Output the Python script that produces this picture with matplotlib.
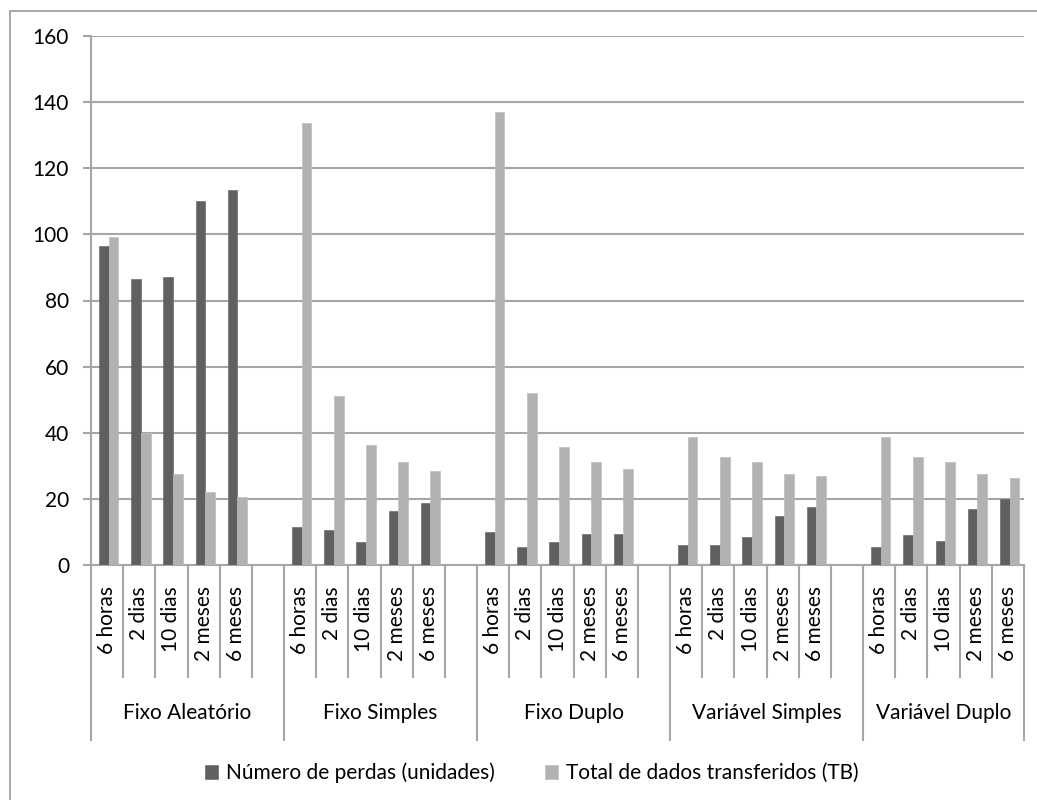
import matplotlib
matplotlib.use("Agg")
import matplotlib.pyplot as plt
from matplotlib.patches import Rectangle
from matplotlib.transforms import blended_transform_factory
import numpy as np

plt.rcParams['font.family'] = ['Lato', 'DejaVu Sans']

groups = ["Fixo Aleatório", "Fixo Simples", "Fixo Duplo", "Variável Simples", "Variável Duplo"]
periods = ["6 horas", "2 dias", "10 dias", "2 meses", "6 meses"]

perdas = [
    [96.4, 86.6, 87.1, 110.2, 113.4],
    [11.6, 10.5, 6.9, 16.3, 18.9],
    [10.0, 5.3, 6.9, 9.5, 9.5],
    [5.9, 5.9, 8.5, 14.8, 17.5],
    [5.4, 9.0, 7.4, 17.0, 20.0],
]
transferidos = [
    [99.1, 40.0, 27.5, 22.1, 20.6],
    [133.7, 51.1, 36.4, 31.1, 28.5],
    [136.9, 52.0, 35.8, 31.1, 29.0],
    [38.6, 32.8, 31.3, 27.5, 27.0],
    [38.6, 32.8, 31.3, 27.5, 26.4],
]

serie_labels = ["Número de perdas (unidades)", "Total de dados transferidos (TB)"]
dark, light = "#606060", "#b2b2b2"
grid_c = "#a6a6a6"
fs = 15

W, H = 1037, 800
fig = plt.figure(figsize=(W / 100, H / 100), dpi=100)
x0, x1, y0, y1 = 91, 1024, 36, 565
ax = fig.add_axes([x0 / W, 1 - y1 / H, (x1 - x0) / W, (y1 - y0) / H])

# outer chart frame
fig.patches.append(Rectangle((9.5 / W, -0.1), 1.2, 1 - 11 / H + 0.1, transform=fig.transFigure,
                             fill=False, edgecolor="#a0a0a0", linewidth=1.3))

# slot positions: five periods per group plus one empty slot between groups
slot = 6
xs = []
for g in range(len(groups)):
    xs.extend([g * slot + s for s in range(len(periods))])
xs = np.array(xs, dtype=float)
pv = np.concatenate(perdas)
tv = np.concatenate(transferidos)

bw = 0.3
ax.bar(xs - 0.1, pv, bw, color=dark, edgecolor="#6e6e6e", linewidth=0.5, label=serie_labels[0], zorder=3)
ax.bar(xs + 0.2, tv, bw, color=light, edgecolor="#bdbdbd", linewidth=0.5, label=serie_labels[1], zorder=3)

nslots = slot * len(groups) - 1
ax.set_xlim(-0.5, nslots - 0.5)
ax.set_ylim(0, 160)
ax.set_yticks(np.arange(0, 161, 20))
ax.yaxis.grid(True, color=grid_c, linewidth=1.5)
ax.set_axisbelow(True)
for sp in ["top", "right"]:
    ax.spines[sp].set_visible(False)
ax.spines["left"].set_color(grid_c)
ax.spines["left"].set_linewidth(1.5)
ax.spines["bottom"].set_color(grid_c)
ax.spines["bottom"].set_linewidth(1.5)
ax.tick_params(axis="y", direction="out", length=5.8, width=1.5, color=grid_c,
               labelsize=fs, pad=10, labelcolor="#000000")
ax.set_xticks([])

tr = blended_transform_factory(ax.transData, ax.transAxes)
ah = y1 - y0
short_y = -(677 - y1) / ah
long_y = -(740 - y1) / ah

for k in range(nslots + 1):
    b = k - 0.5
    is_group = (k % slot == 0) or (k == nslots)
    ax.plot([b, b], [0, long_y if is_group else short_y], transform=tr, color=grid_c,
            linewidth=1.5, clip_on=False)

for x, lab in zip(xs, list(periods) * len(groups)):
    ax.text(x, -(586 - y1) / ah, lab, transform=tr, rotation=90, ha="center", va="top",
            fontsize=fs)

for g, name in enumerate(groups):
    start = g * slot - 0.5
    end = min(g * slot + slot - 0.5, nslots - 0.5)
    ax.text((start + end) / 2, -(713 - y1) / ah, name, transform=tr, ha="center",
            va="center", fontsize=fs)

fig.legend(loc="center", bbox_to_anchor=(532 / W, 1 - 773 / H), ncol=2, frameon=False,
           fontsize=fs, handlelength=0.6, handleheight=0.6, handletextpad=0.4,
           columnspacing=2.4)

fig.savefig("out.png", dpi=100)
